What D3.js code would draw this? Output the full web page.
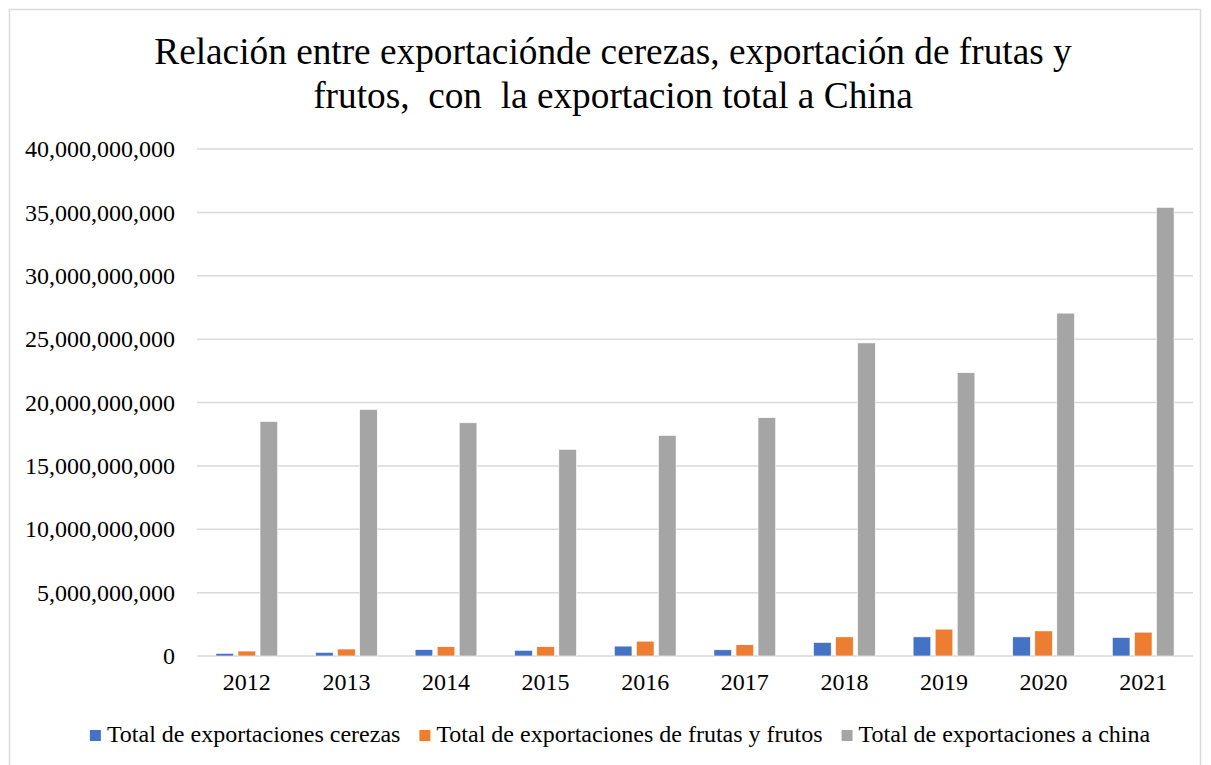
<!DOCTYPE html>
<html>
<head>
<meta charset="utf-8">
<script src="https://cdn.jsdelivr.net/npm/d3@7"></script>
<style>
    body { margin: 0; background: #fff; }
    text { font-family: "Liberation Serif", "Times New Roman", serif; fill: #000; }
</style>
</head>
<body>
<div id="chart"></div>
<script>
// Data
const years = ["2012", "2013", "2014", "2015", "2016", "2017", "2018", "2019", "2020", "2021"];
const seriesNames = [
    "Total de exportaciones cerezas",
    "Total de exportaciones de frutas y frutos",
    "Total de exportaciones a china"
];
const cerezas = [0.21e9, 0.29e9, 0.50e9, 0.45e9, 0.78e9, 0.49e9, 1.07e9, 1.51e9, 1.51e9, 1.46e9];
const frutas = [0.39e9, 0.55e9, 0.74e9, 0.74e9, 1.17e9, 0.89e9, 1.51e9, 2.12e9, 1.98e9, 1.88e9];
const china = [18.5e9, 19.45e9, 18.4e9, 16.3e9, 17.4e9, 18.8e9, 24.7e9, 22.35e9, 27.05e9, 35.4e9];
const yTicks = [0, 5e9, 10e9, 15e9, 20e9, 25e9, 30e9, 35e9, 40e9];
const colors = ["#4472C4", "#ED7D31", "#A5A5A5"];

const titleLines = [
    "Relación entre exportaciónde cerezas, exportación de frutas y",
    "frutos,  con  la exportacion total a China"
];

const width = 1211, height = 765;
const margin = {top: 149, right: 18, bottom: 109, left: 197};
const plotW = width - margin.left - margin.right,
    plotH = height - margin.top - margin.bottom;

const svg = d3.select("#chart")
    .append("svg")
    .attr("width", width)
    .attr("height", height);

// Chart border
svg.append("rect")
    .attr("x", 9.5)
    .attr("y", 9.5)
    .attr("width", 1191)
    .attr("height", 780)
    .attr("fill", "none")
    .attr("stroke", "#d9d9d9")
    .attr("stroke-width", 1.5);

// Title
svg.append("text")
    .attr("text-anchor", "middle")
    .attr("font-size", 37.3)
    .style("white-space", "pre")
    .selectAll("tspan")
    .data(titleLines)
    .enter()
    .append("tspan")
    .attr("x", 613)
    .attr("y", (d, i) => 64 + i * 44)
    .text(d => d);

const g = svg.append("g")
    .attr("transform", `translate(${margin.left},${margin.top})`);

// Scales
const x0 = d3.scaleBand()
    .domain(years)
    .range([0, plotW]);

const groupW = x0.bandwidth() * 0.62;
const x1 = d3.scaleBand()
    .domain(seriesNames)
    .range([0, groupW])
    .paddingInner(0.2);

const y = d3.scaleLinear()
    .domain([0, 40e9])
    .range([plotH, 0]);

// Gridlines
g.selectAll(".grid")
    .data(yTicks)
    .enter()
    .append("line")
    .attr("x1", 0)
    .attr("x2", plotW)
    .attr("y1", d => y(d))
    .attr("y2", d => y(d))
    .attr("stroke", "#d9d9d9")
    .attr("stroke-width", 1.5);

// Y axis labels
const yAxis = d3.axisLeft(y)
    .tickValues(yTicks)
    .tickFormat(d3.format(","))
    .tickSize(0)
    .tickPadding(22);

g.append("g")
    .call(yAxis)
    .call(a => a.select(".domain").remove())
    .selectAll("text")
    .attr("font-size", 24)
    .attr("font-family", "Liberation Serif, Times New Roman, serif");

// Bars
const rows = years.map((yr, i) => ({year: yr, values: [cerezas[i], frutas[i], china[i]]}));

const groups = g.selectAll(".year")
    .data(rows)
    .enter()
    .append("g")
    .attr("transform", d => `translate(${x0(d.year) + (x0.bandwidth() - groupW) / 2},0)`);

groups.selectAll("rect")
    .data(d => d.values.map((v, j) => ({name: seriesNames[j], value: v, color: colors[j]})))
    .enter()
    .append("rect")
    .attr("x", d => x1(d.name))
    .attr("y", d => y(d.value))
    .attr("width", x1.bandwidth())
    .attr("height", d => plotH - y(d.value))
    .attr("fill", d => d.color)
    .attr("stroke", "#fff")
    .attr("stroke-width", 0.6);

// X axis labels
const xAxis = d3.axisBottom(x0)
    .tickSize(0)
    .tickPadding(17);

g.append("g")
    .attr("transform", `translate(0,${plotH})`)
    .call(xAxis)
    .call(a => a.select(".domain").remove())
    .selectAll("text")
    .attr("font-size", 24)
    .attr("font-family", "Liberation Serif, Times New Roman, serif");

// Legend
const legend = svg.append("g");
const items = legend.selectAll("g")
    .data(seriesNames)
    .enter()
    .append("g");

items.append("rect")
    .attr("width", 11)
    .attr("height", 11)
    .attr("y", 730)
    .attr("fill", (d, i) => colors[i]);

items.append("text")
    .attr("x", 17)
    .attr("y", 742)
    .attr("font-size", 24)
    .text(d => d);

let cursor = 0;
const offsets = [];
items.each(function() {
    offsets.push(cursor);
    cursor += 17 + this.querySelector("text").getComputedTextLength() + 19;
});
const totalW = cursor - 19;
const startX = 620 - totalW / 2;
items.attr("transform", (d, i) => `translate(${startX + offsets[i]},0)`);
</script>
</body>
</html>
